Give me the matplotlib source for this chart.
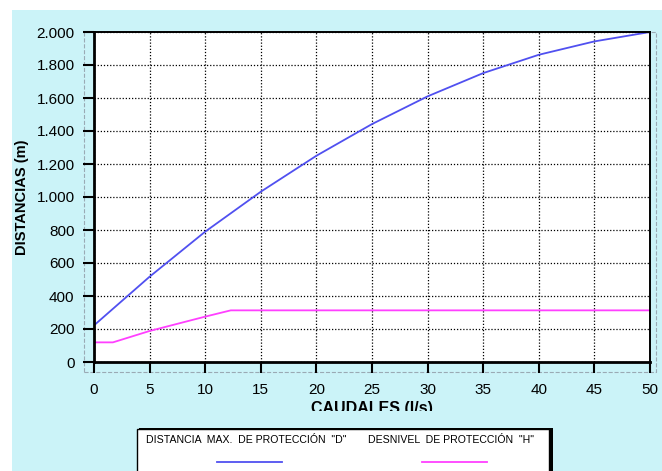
import matplotlib.pyplot as plt
from matplotlib.patches import Rectangle
from matplotlib.lines import Line2D
from matplotlib.transforms import Bbox

plt.rcParams['font.family'] = ['Liberation Sans', 'DejaVu Sans']

# caudales (l/s) y distancias (m)
caudal_d = [0, 5, 10, 15, 20, 25, 30, 35, 40, 45, 50]
distancia_d = [222, 517, 790, 1032, 1250, 1442, 1610, 1751, 1862, 1943, 2000]

caudal_h = [0, 1.7, 5, 10, 12.3, 50]
desnivel_h = [119, 119, 188, 275, 313, 313]

y_ticks = [0, 200, 400, 600, 800, 1000, 1200, 1400, 1600, 1800, 2000]
y_labels = ['0', '200', '400', '600', '800', '1.000', '1.200', '1.400', '1.600', '1.800', '2.000']
x_ticks = list(range(0, 51, 5))

W, H = 662, 471
fig = plt.figure(figsize=(W / 100, H / 100), dpi=100)
fig.patch.set_facecolor('white')

# fondo cian
fig.patches.append(Rectangle((12 / W, 0), 1 - 12 / W, 1 - 10 / H, transform=fig.transFigure,
                             facecolor='#cbf3f8', edgecolor='none', zorder=-2))
# marco discontinuo del area de trazado
fig.patches.append(Rectangle((84 / W, 1 - 372 / H), 572 / W, 340 / H, transform=fig.transFigure,
                             facecolor='none', edgecolor='#9aaab4', linestyle='--', linewidth=0.8, zorder=-1))

ax = fig.add_axes([94 / W, 1 - 362 / H, 556 / W, 330 / H])
ax.set_zorder(1)
ax.set_facecolor('white')

ax.plot(caudal_d, distancia_d, color='#5050f0', linewidth=1.3)
ax.plot(caudal_h, desnivel_h, color='#ff40ff', linewidth=1.3)

ax.set_xlim(0, 50)
ax.set_ylim(0, 2000)
ax.set_xticks(x_ticks)
ax.set_yticks(y_ticks)
ax.set_yticklabels(y_labels)
ax.tick_params(axis='both', direction='out', length=8, width=1.5, labelsize=11, colors='black')
ax.tick_params(axis='x', pad=7)
ax.tick_params(axis='y', pad=6)
ax.grid(True, color='black', linestyle=(0, (1, 1.5)), linewidth=0.9)

for side in ['left', 'bottom']:
    ax.spines[side].set_linewidth(2)
for side in ['top', 'right']:
    ax.spines[side].set_linewidth(1.4)

ax.set_ylabel('DISTANCIAS (m)', fontsize=10.5, fontweight='bold', labelpad=5)
ax.set_xlabel('CAUDALES (l/s)', fontsize=11.5, fontweight='bold', labelpad=3)
# la etiqueta del eje X aparece recortada en el original
ax.xaxis.label.set_clip_box(Bbox([[0, H - 411], [W, H]]))
ax.xaxis.label.set_clip_on(True)

# leyenda
fig.patches.append(Rectangle((139 / W, -0.01), 414 / W, (471 - 428) / H + 0.01, transform=fig.transFigure,
                             facecolor='black', edgecolor='none', zorder=2))
fig.patches.append(Rectangle((137 / W, -0.01), 412 / W, (471 - 429) / H + 0.01, transform=fig.transFigure,
                             facecolor='white', edgecolor='black', linewidth=1, zorder=3))
fig.text(146 / W, 1 - 440 / H, 'DISTANCIA  MAX.  DE PROTECCIÓN  "D"', fontsize=7.6, va='center',
         ha='left', zorder=4)
fig.text(368 / W, 1 - 440 / H, 'DESNIVEL  DE PROTECCIÓN  "H"', fontsize=7.6, va='center',
         ha='left', zorder=4)
fig.lines.append(Line2D([217 / W, 282 / W], [1 - 462 / H] * 2, transform=fig.transFigure,
                        color='#5050f0', linewidth=1.3, zorder=4))
fig.lines.append(Line2D([422 / W, 487 / W], [1 - 462 / H] * 2, transform=fig.transFigure,
                        color='#ff40ff', linewidth=1.3, zorder=4))

fig.savefig('out.png', dpi=100)
